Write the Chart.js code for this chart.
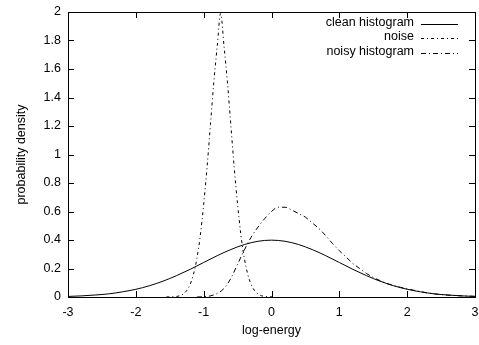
<!DOCTYPE html>
<html>
<head>
<meta charset="utf-8">
<script src="https://cdn.jsdelivr.net/npm/chart.js@4.4.0/dist/chart.umd.min.js"></script>
<style>
  html, body { margin: 0; padding: 0; background: #fff; }
  #chart { display: block; }
</style>
</head>
<body>
<canvas id="chart" width="479" height="345"></canvas>
<script>
// values
const cleanX = [-3, -2.8, -2.6, -2.4, -2.2, -2, -1.8, -1.6, -1.4, -1.2, -1, -0.8, -0.6, -0.4, -0.2,
    0, 0.2, 0.4, 0.6, 0.8, 1, 1.2, 1.4, 1.6, 1.8, 2, 2.2, 2.4, 2.6, 2.8, 3];
const cleanY = [0.004, 0.008, 0.014, 0.022, 0.036, 0.054, 0.079, 0.111, 0.150, 0.194, 0.242, 0.290, 0.333, 0.368, 0.391,
    0.399, 0.391, 0.368, 0.333, 0.290, 0.242, 0.194, 0.150, 0.111, 0.079, 0.054, 0.036, 0.022, 0.014, 0.008, 0.004];

const noiseX = [-1.55, -1.45, -1.4, -1.35, -1.3, -1.25, -1.2, -1.15, -1.1, -1.05, -1, -0.95, -0.9, -0.85, -0.8,
    -0.75, -0.7, -0.65, -0.6, -0.55, -0.5, -0.45, -0.4, -0.35, -0.3, -0.25, -0.2, -0.15, -0.1, -0.05, 0.05];
const noiseY = [0, 0.002, 0.004, 0.009, 0.022, 0.045, 0.088, 0.16, 0.27, 0.43, 0.65, 0.91, 1.21, 1.51, 1.76,
    1.99, 1.76, 1.51, 1.21, 0.91, 0.65, 0.43, 0.27, 0.16, 0.088, 0.045, 0.022, 0.009, 0.004, 0.002, 0];

const noisyX = [-1.1, -1, -0.9, -0.8, -0.7, -0.6, -0.5, -0.4, -0.3, -0.2, -0.1, 0, 0.1, 0.2, 0.3, 0.4, 0.5,
    0.6, 0.7, 0.8, 0.9, 1, 1.1, 1.2, 1.3, 1.4, 1.5, 1.6, 1.7, 1.8, 1.9, 2, 2.2, 2.4, 2.6, 2.8, 3];
const noisyY = [0, 0.002, 0.008, 0.025, 0.06, 0.13, 0.23, 0.33, 0.42, 0.49, 0.55, 0.60, 0.63, 0.63, 0.61, 0.585, 0.56,
    0.52, 0.48, 0.43, 0.375, 0.325, 0.28, 0.235, 0.20, 0.165, 0.138, 0.115, 0.095, 0.08, 0.068, 0.058, 0.037, 0.022, 0.013, 0.008, 0.005];

const xTicks = [-3, -2, -1, 0, 1, 2, 3];
const yTicks = [0, 0.2, 0.4, 0.6, 0.8, 1, 1.2, 1.4, 1.6, 1.8, 2];

const FONT = 'Liberation Sans, Arial, Helvetica, sans-serif';

function pts(xs, ys) {
    return xs.map((x, i) => ({ x: x, y: ys[i] }));
}

// gnuplot-like frame, inward ticks, axis titles and key
const framePlugin = {
    id: 'frame',
    afterDraw(chart) {
        const ctx = chart.ctx;
        const a = chart.chartArea;
        const xs = chart.scales.x, ys = chart.scales.y;
        ctx.save();
        ctx.strokeStyle = '#000';
        ctx.lineWidth = 1;
        ctx.beginPath();
        xTicks.forEach(v => {
            const p = Math.round(xs.getPixelForValue(v)) + 0.5;
            ctx.moveTo(p, a.bottom); ctx.lineTo(p, a.bottom - 6);
            ctx.moveTo(p, a.top); ctx.lineTo(p, a.top + 6);
        });
        yTicks.forEach(v => {
            const p = Math.round(ys.getPixelForValue(v)) + 0.5;
            ctx.moveTo(a.left, p); ctx.lineTo(a.left + 6, p);
            ctx.moveTo(a.right, p); ctx.lineTo(a.right - 6, p);
        });
        ctx.stroke();
        ctx.strokeRect(Math.round(a.left) + 0.5, Math.round(a.top) + 0.5,
            Math.round(a.right - a.left), Math.round(a.bottom - a.top));

        ctx.fillStyle = '#000';
        ctx.font = '12.5px ' + FONT;
        ctx.textAlign = 'center';
        ctx.textBaseline = 'middle';
        ctx.fillText('log-energy', (a.left + a.right) / 2, 331);
        ctx.save();
        ctx.translate(22, (a.top + a.bottom) / 2);
        ctx.rotate(-Math.PI / 2);
        ctx.fillText('probability density', 0, 0);
        ctx.restore();

        // key
        ctx.textAlign = 'right';
        chart.data.datasets.forEach((ds, i) => {
            const y = 23.5 + i * 14.5;
            ctx.fillText(ds.label, 414, y - 1);
            ctx.beginPath();
            ctx.setLineDash(ds.borderDash || []);
            ctx.moveTo(421, Math.round(y) + 0.5);
            ctx.lineTo(458, Math.round(y) + 0.5);
            ctx.stroke();
        });
        ctx.restore();
    }
};

const ctx = document.getElementById('chart').getContext('2d');
const chart = new Chart(ctx, {
    type: 'line',
    data: {
        datasets: [
            {
                label: 'clean histogram',
                data: pts(cleanX, cleanY),
                borderColor: '#000',
                borderWidth: 1,
                borderDash: []
            },
            {
                label: 'noise',
                data: pts(noiseX, noiseY),
                borderColor: '#000',
                borderWidth: 1,
                borderDash: [3, 3, 1, 3]
            },
            {
                label: 'noisy histogram',
                data: pts(noisyX, noisyY),
                borderColor: '#000',
                borderWidth: 1,
                borderDash: [5, 3, 1, 3]
            }
        ]
    },
    options: {
        responsive: false,
        animation: false,
        layout: { padding: { top: 12, right: 4, left: 0, bottom: 0 } },
        elements: {
            point: { radius: 0 },
            line: { tension: 0.4, cubicInterpolationMode: 'monotone' }
        },
        plugins: {
            legend: { display: false },
            tooltip: { enabled: false }
        },
        scales: {
            x: {
                type: 'linear',
                min: -3,
                max: 3,
                grid: { display: false, drawTicks: false, tickLength: 0 },
                border: { display: false },
                ticks: {
                    stepSize: 1,
                    padding: 8,
                    maxRotation: 0,
                    color: '#000',
                    font: { family: FONT, size: 12.5 }
                },
                afterFit(scale) {
                    scale.height = 48;
                    scale.paddingLeft = 0;
                    scale.paddingRight = 0;
                }
            },
            y: {
                min: 0,
                max: 2,
                grid: { display: false, drawTicks: false, tickLength: 0 },
                border: { display: false },
                ticks: {
                    stepSize: 0.2,
                    padding: 7,
                    color: '#000',
                    font: { family: FONT, size: 12.5 },
                    callback: v => String(Math.round(v * 10) / 10)
                },
                afterFit(scale) {
                    scale.width = 68;
                    scale.paddingTop = 0;
                    scale.paddingBottom = 0;
                }
            }
        }
    },
    plugins: [framePlugin]
});
</script>
</body>
</html>
